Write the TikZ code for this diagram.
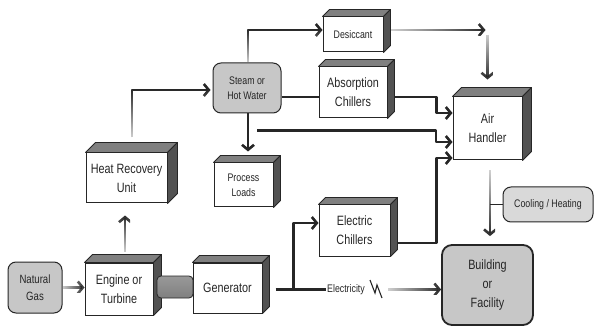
\documentclass[tikz,border=0pt]{standalone}
\usepackage{fontspec}
\setmainfont{Liberation Sans}[FakeStretch=0.8]
\usetikzlibrary{arrows.meta,fadings}

\tikzfading[name=fade right, left color=transparent!80, right color=transparent!0]
\tikzfading[name=fade up, top color=transparent!0, bottom color=transparent!80]
\tikzfading[name=fade down, top color=transparent!80, bottom color=transparent!0]

\newcommand\bigtext{\fontsize{13.5}{19}\selectfont}
\newcommand\midtext{\fontsize{12}{17}\selectfont}
\newcommand\smalltext{\fontsize{11}{15}\selectfont}

\tikzset{
  cube/.style={draw=black!85, line width=1pt, fill=white, inner sep=1pt, align=center,
    text=black!85, font=\bigtext,
    append after command={\pgfextra{\let\cubenode\tikzlastnode
      \filldraw[fill=black!50, draw=black!85, line width=0.8pt, line join=round]
        (\cubenode.north west) -- ++(#1,-#1) -- ([shift={(#1pt,#1pt)}]\cubenode.north east)
        -- (\cubenode.north east) -- cycle;
      \filldraw[fill=black!68, draw=black!85, line width=0.8pt, line join=round]
        (\cubenode.north east) -- ++(#1,-#1) -- ([shift={(#1pt,#1pt)}]\cubenode.south east)
        -- (\cubenode.south east) -- cycle;}}},
  cube/.default=8,
  pill/.style={draw=black!85, line width=1pt, fill=black!22, rounded corners=8pt,
    inner sep=1pt, align=center, text=black!85, font=\midtext},
  link/.style={draw=black!85, line width=2.6pt, line join=round,
    -{Straight Barb[length=5pt,width=12pt]}},
  wire/.style={draw=black!85, line width=2.6pt, line join=round},
  fadeR/.style={path fading=fade right},
  fadeU/.style={path fading=fade up},
  fadeD/.style={path fading=fade down}
}

\begin{document}
\begin{tikzpicture}[x=1pt, y=-1pt]
  \useasboundingbox (0,0) rectangle (595,326);

  % Sources and plant
  \node[pill, minimum width=54, minimum height=51] (gas) at (35,287.5) {Natural\\Gas};
  \node[cube=8, minimum width=68, minimum height=52] (engine) at (119,289) {Engine or\\Turbine};
  \node[cube=7, minimum width=69, minimum height=50] (gen) at (227.5,288) {Generator};
  \node[draw=black!85, line width=0.8pt, rounded corners=4pt, minimum width=36, minimum height=22,
    top color=black!40, middle color=black!10, bottom color=black!50] (axle) at (175,287) {};
  \node[cube=10, minimum width=81, minimum height=50] (hru) at (126.5,178) {Heat Recovery\\Unit};

  % Thermal side
  \node[pill, minimum width=68, minimum height=50, font=\smalltext] (steam) at (247,88) {Steam or\\Hot Water};
  \node[cube=7, minimum width=59, minimum height=44, font=\smalltext] (proc) at (243.5,185) {Process\\Loads};
  \node[cube=7, minimum width=60, minimum height=35, font=\smalltext] (des) at (353,34.5) {Desiccant};
  \node[cube=7, minimum width=68, minimum height=51] (abs) at (353,92.5) {Absorption\\Chillers};
  \node[cube=7, minimum width=71, minimum height=51] (elec) at (354.5,230.5) {Electric\\Chillers};
  \node[cube=9, minimum width=69, minimum height=63] (air) at (487.5,128.5) {Air\\Handler};

  % Loads
  \node[pill, fill=black!15, minimum width=90, minimum height=35, font=\smalltext] (cool) at (548,204.5) {Cooling / Heating};
  \node[pill, line width=1.8pt, rounded corners=10pt, minimum width=91, minimum height=80, font=\bigtext]
    (bldg) at (487.5,285) {Building\\or\\Facility};
  \node[text=black!85, font=\smalltext, inner sep=1pt] (power) at (346,289.5) {Electricity};

  % Connectors (the extra first point only widens the fading box)
  \draw[link, fadeR] ([yshift=5pt]gas.east) (gas.east) -- (gas.east -| engine.west);
  \draw[link, fadeU] ([xshift=1pt,yshift=11pt]engine.north) ([xshift=6pt,yshift=11pt]engine.north)
    -- ([xshift=-1.5pt,yshift=-12pt]hru.south);
  \draw[link, fadeU] ([xshift=5.5pt,yshift=15pt]hru.north) |- ([xshift=-2pt,yshift=-2pt]steam.west);
  \draw[link, fadeU] ([xshift=1pt]steam.north) |- ([yshift=4.5pt]des.west);
  \draw[wire] ([yshift=-9pt]steam.east) -- ([yshift=-9pt]steam.east -| abs.west);
  \draw[link] ([xshift=1pt]steam.south) -- ([xshift=4.5pt,yshift=11pt]proc.north);
  \draw[link] ([xshift=7pt,yshift=-4.5pt]abs.east) -- ++(42,0) |- ([yshift=15.5pt]air.west);
  \draw[link] ([xshift=10pt,yshift=-17pt]steam.south) -- ++(179,0) |- ([yshift=-13.5pt]air.west);
  \draw[link] ([xshift=7pt,yshift=-12.5pt]elec.east) -- ++(39,0) |- ([yshift=-29.5pt]air.west);
  \draw[link, fadeR] ([xshift=7pt,yshift=9.5pt]des.east) ([xshift=7pt,yshift=4.5pt]des.east) -- ++(95,0);
  \draw[link, fadeD] ([xshift=-5pt]air.north |- des.east) (air.north |- des.east) -- ([yshift=17pt]air.north);
  \draw[link, fadeD] ([xshift=-2.5pt,yshift=-10pt]air.south) ([xshift=2.5pt,yshift=-10pt]air.south)
    -- ([xshift=2.5pt,yshift=8pt]bldg.north);
  \draw[draw=black!85, line width=1pt] (cool.west) -- ++(-13,0);
  \draw[wire] ([xshift=13pt,yshift=-1.5pt]gen.east) -- (power.west);
  \draw[link] ([xshift=31pt,yshift=-1.5pt]gen.east) |- ([yshift=7.5pt]elec.west);
  \draw[link, fadeR] ([xshift=22pt,yshift=5pt]power.east) ([xshift=22pt]power.east) -- (power.east -| bldg.west);

  % lightning mark
  \draw[draw=black!85, line width=1.1pt] (370,280) -- (375,293) -- (377,285) -- (382,298);

\end{tikzpicture}
\end{document}
